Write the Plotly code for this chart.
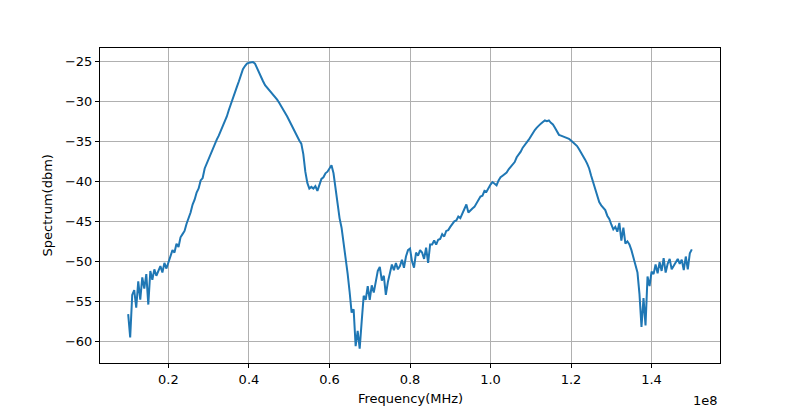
import numpy as np
import plotly.graph_objects as go

spectrum_dbm = [
    -56.6, -59.5, -54.2, -53.6, -55.8, -52.5, -54.8, -52.0, -53.4, -51.6,
    -55.4, -51.2, -52.3, -51.0, -51.8, -51.3, -50.6, -51.4, -50.2, -50.9,
    -50.2, -49.4, -48.6, -48.9, -47.8, -48.2, -47.0, -46.6, -46.2, -45.3,
    -44.6, -43.9, -42.9, -42.3, -41.4, -40.9, -39.9, -39.6, -38.4, -37.8,
    -37.2, -36.4, -35.9, -35.4, -34.8, -34.3, -33.7, -33.2, -32.6, -31.9,
    -31.1, -30.3, -29.6, -28.9, -28.2, -27.5, -26.7, -26.0, -25.6, -25.3,
    -25.2, -25.1, -25.1, -25.3, -25.9, -26.5, -27.1, -27.5, -28.0, -28.3,
    -28.6, -28.9, -29.1, -29.4, -29.8, -30.2, -30.6, -31.0, -31.4, -31.9,
    -32.4, -32.9, -33.5, -34.1, -34.5, -34.9, -35.3, -36.6, -38.8, -40.2,
    -40.9, -40.7, -40.9, -40.6, -41.2, -40.3, -39.7, -39.5, -39.0, -38.8,
    -38.3, -38.0, -39.0, -40.9, -42.9, -44.6, -45.8, -47.6, -49.8, -51.5,
    -53.8, -56.4, -56.0, -60.6, -58.7, -60.9, -57.5, -54.3, -54.8, -53.1,
    -54.8, -53.0, -53.9, -52.4, -51.2, -50.7, -52.4, -51.8, -54.2, -52.6,
    -51.3, -50.4, -51.1, -50.2, -51.0, -50.6, -49.8, -50.8, -49.4, -48.6,
    -48.4, -50.0, -50.8, -48.9, -49.3, -48.6, -48.9, -49.7, -48.3, -50.2,
    -47.9, -47.9, -47.4, -47.9, -47.3, -47.2, -46.6, -46.9, -46.2, -46.1,
    -45.7, -45.4, -45.0, -44.9, -44.4, -44.6, -44.0, -43.6, -42.9, -43.9,
    -43.6, -43.4, -43.2, -42.8, -42.3, -41.9, -41.8, -41.2, -41.3, -40.8,
    -40.4, -40.1, -40.3, -40.5, -39.9, -39.5, -39.3, -39.1, -38.9, -38.5,
    -38.2, -37.8, -37.6, -37.0, -36.7, -36.3, -35.8, -35.5, -35.2, -34.8,
    -34.4, -33.9, -33.6, -33.3, -33.0, -32.8, -32.6, -32.4, -32.5, -32.4,
    -32.7, -32.9, -33.3, -33.8, -34.2, -34.3, -34.4, -34.5, -34.6, -34.7,
    -34.9, -35.1, -35.3, -35.6, -36.0, -36.4, -36.8, -37.3, -37.8, -38.4,
    -39.3, -40.2, -41.0, -41.8, -42.6, -43.0, -43.3, -43.6, -44.3, -44.7,
    -45.4, -46.0, -45.7, -46.3, -45.2, -47.4, -45.8, -47.8, -47.5, -47.9,
    -48.6, -49.6, -50.5, -51.4, -54.1, -58.2, -54.6, -58.0, -51.9, -53.1,
    -51.3, -51.6, -50.4, -51.5, -50.1, -51.2, -49.6, -51.4, -50.3, -49.7,
    -51.0, -50.5, -50.1, -49.7, -50.3, -49.8, -51.1, -49.4, -51.0, -49.0,
    -48.5,
]
freq_start_hz = 1.0e7
freq_stop_hz = 1.5e8
freq_hz = np.linspace(freq_start_hz, freq_stop_hz, len(spectrum_dbm))

x_tick_vals = [2e7, 4e7, 6e7, 8e7, 1.0e8, 1.2e8, 1.4e8]
x_tick_text = ["0.2", "0.4", "0.6", "0.8", "1.0", "1.2", "1.4"]
y_tick_vals = [-25, -30, -35, -40, -45, -50, -55, -60]
y_tick_text = ["\u221225", "\u221230", "\u221235", "\u221240", "\u221245", "\u221250", "\u221255", "\u221260"]

FONT = "DejaVu Sans"

fig = go.Figure()
fig.add_trace(go.Scatter(
    x=freq_hz, y=spectrum_dbm, mode="lines",
    line=dict(color="#1f77b4", width=2),
    showlegend=False,
))

axis_common = dict(
    showgrid=True, gridcolor="#b0b0b0", gridwidth=0.8,
    showline=True, linecolor="black", linewidth=1, mirror=True,
    ticks="outside", ticklen=4, tickwidth=1, tickcolor="black",
    zeroline=False, automargin=False,
    tickfont=dict(family=FONT, size=13, color="black"),
)

# The page body adds an 8px offset, so the figure is 792x401 with shifted margins.
fig.update_layout(
    width=792, height=401,
    margin=dict(l=92, r=80, t=40, b=46),
    paper_bgcolor="white", plot_bgcolor="white",
    font=dict(family=FONT, size=13, color="black"),
    xaxis=dict(range=[0.3e7, 1.57e8], tickvals=x_tick_vals, ticktext=x_tick_text, **axis_common),
    yaxis=dict(range=[-62.7, -23.35], tickvals=y_tick_vals, ticktext=y_tick_text, **axis_common),
    annotations=[
        dict(text="Frequency(MHz)", xref="paper", yref="paper", x=0.5, y=-0.114,
             xanchor="center", yanchor="middle", showarrow=False,
             font=dict(family=FONT, size=13, color="black")),
        dict(text="Spectrum(dbm)", xref="paper", yref="paper", x=-0.084, y=0.5,
             xanchor="center", yanchor="middle", textangle=-90, showarrow=False,
             font=dict(family=FONT, size=13, color="black")),
        dict(text="1e8", xref="paper", yref="paper", x=1.0, y=-0.118,
             xanchor="right", yanchor="middle", showarrow=False,
             font=dict(family=FONT, size=13, color="black")),
    ],
)

fig.write_html("out.html")
